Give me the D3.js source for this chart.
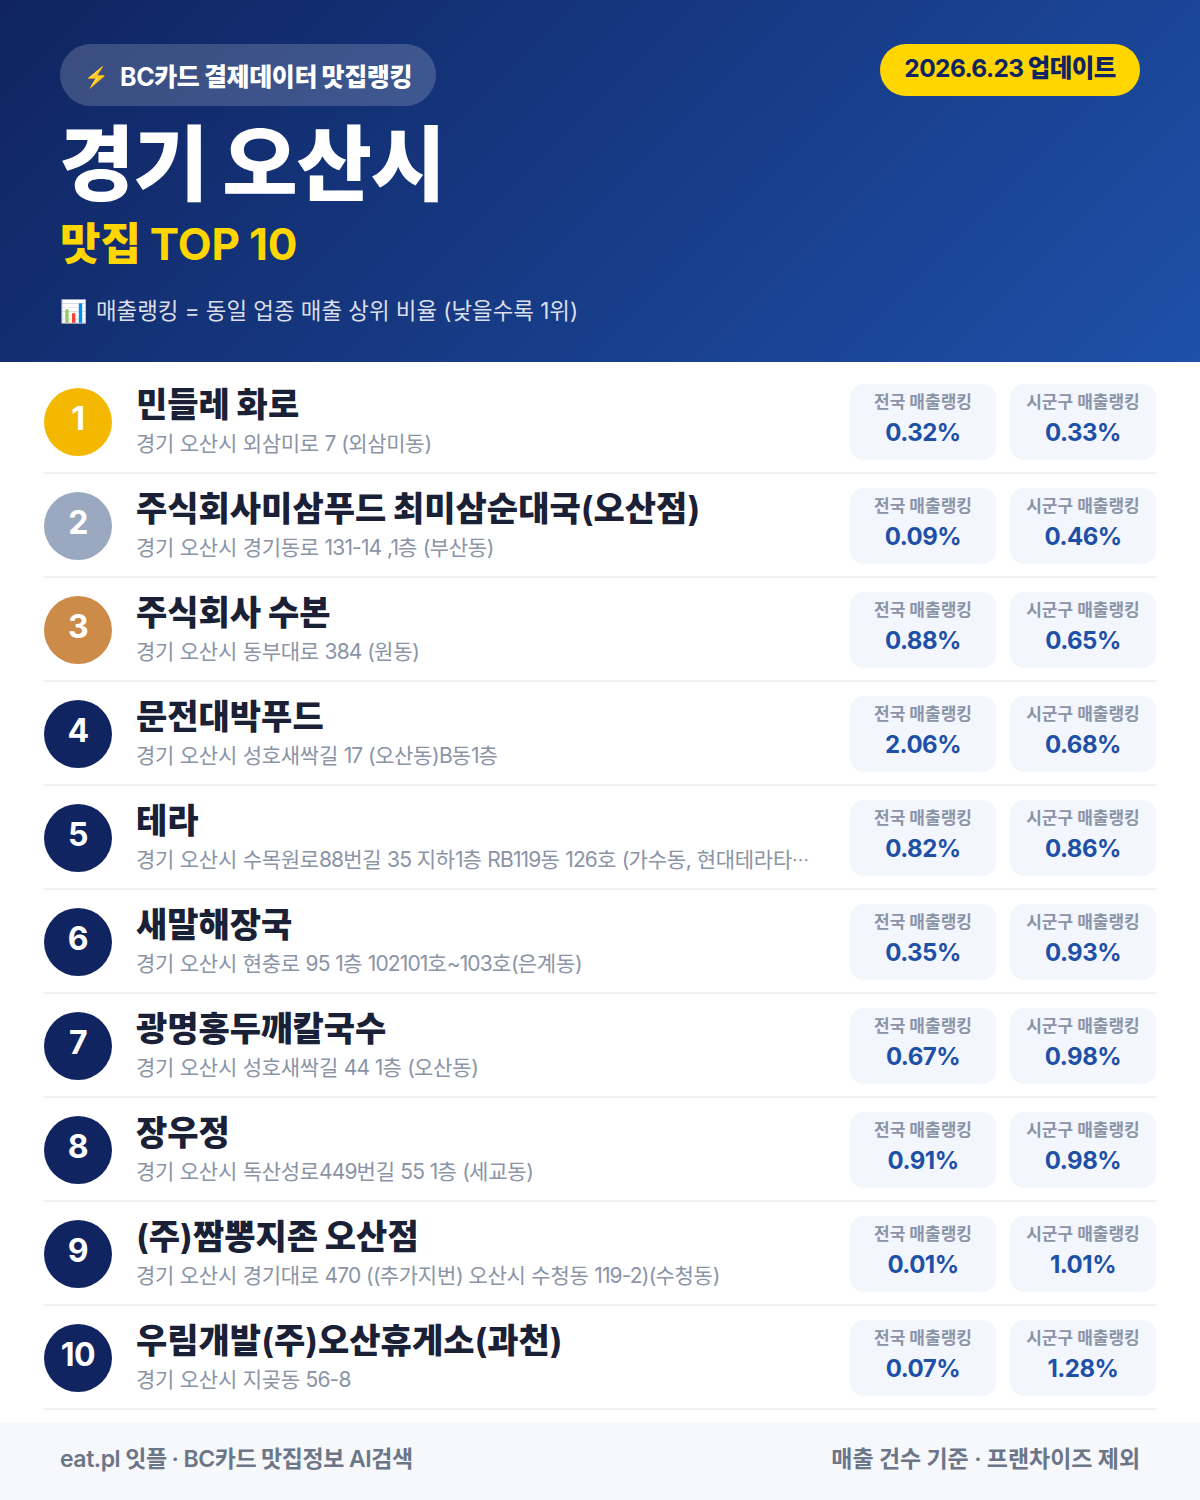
<!DOCTYPE html>
<html lang="ko"><head><meta charset="utf-8">
<script src="https://cdn.jsdelivr.net/npm/d3@7/dist/d3.min.js"></script>
<style>html,body{margin:0;padding:0;background:#fff}svg{display:block}text{font-family:Inter,"Noto Sans CJK KR",sans-serif}</style>
</head><body><div id="c"></div>
<script>
const ranks=[1,2,3,4,5,6,7,8,9,10];
const names=["민들레 화로","주식회사미삼푸드 최미삼순대국(오산점)","주식회사 수본","문전대박푸드","테라","새말해장국","광명홍두깨칼국수","장우정","(주)짬뽕지존 오산점","우림개발(주)오산휴게소(과천)"];
const addresses=["경기 오산시 외삼미로 7 (외삼미동)","경기 오산시 경기동로 131-14 ,1층 (부산동)","경기 오산시 동부대로 384 (원동)","경기 오산시 성호새싹길 17 (오산동)B동1층","경기 오산시 수목원로88번길 35 지하1층 RB119동 126호 (가수동, 현대테라타…","경기 오산시 현충로 95 1층 102101호~103호(은계동)","경기 오산시 성호새싹길 44 1층 (오산동)","경기 오산시 독산성로449번길 55 1층 (세교동)","경기 오산시 경기대로 470 ((추가지번) 오산시 수청동 119-2)(수청동)","경기 오산시 지곶동 56-8"];
const nationalRank=[0.32,0.09,0.88,2.06,0.82,0.35,0.67,0.91,0.01,0.07];
const districtRank=[0.33,0.46,0.65,0.68,0.86,0.93,0.98,0.98,1.01,1.28];
const medalColors=["#f5b800","#9aa8c0","#cd8b4a"];
const defaultColor="#0f2460";

const W=1200,H=1500;
const svg=d3.select("#c").append("svg").attr("width",W).attr("height",H).attr("viewBox",`0 0 ${W} ${H}`);
const defs=svg.append("defs");
const g=defs.append("linearGradient").attr("id","hd").attr("gradientUnits","userSpaceOnUse")
 .attr("x1",210).attr("y1",-209).attr("x2",990).attr("y2",571);
g.append("stop").attr("offset","0").attr("stop-color","#0f2460");
g.append("stop").attr("offset","1").attr("stop-color","#1e50a8");
svg.append("rect").attr("width",W).attr("height",362).attr("fill","url(#hd)");

// Hangul (with its spaces) and Latin/digit runs get their own weight and spacing.
function runs(sel,str,hw,lw,hs,ls){
  str.split(/([\uAC00-\uD7A3\s]+)/).filter(s=>s.length).forEach(s=>{
    const isH=/^[\uAC00-\uD7A3\s]+$/.test(s);
    const tsp=sel.append("tspan").text(s).attr("font-weight",isH?hw:lw).attr("letter-spacing",isH?hs:ls);
    if(s.includes("…")){tsp.attr("font-family","Noto Sans CJK KR").attr("font-size",17);}
  });
}
function t(x,y,str,size,hw,lw,hs,ls,fill,anchor){
  const e=svg.append("text").attr("x",x).attr("y",y).attr("font-size",size).attr("fill",fill).attr("text-anchor",anchor||"start");
  runs(e,str,hw,lw,hs,ls);return e;
}
svg.append("rect").attr("x",60).attr("y",44).attr("width",376).attr("height",62).attr("rx",31).attr("fill","#fff").attr("fill-opacity",.18);
t(84,84,"⚡",20,400,400,0,0,"#ffd600");
t(120,86,"BC카드 결제데이터 맛집랭킹",25,900,700,-.4,-.4,"#fff");
svg.append("rect").attr("x",880).attr("y",44).attr("width",260).attr("height",52).attr("rx",26).attr("fill","#ffd600");
t(1010,77,"2026.6.23 업데이트",24.5,900,700,-.6,-.6,"#0f2460","middle");
t(59,194,"경기 오산시",82,900,900,-1.3,-1.3,"#fff");
t(60,260,"맛집 TOP 10",44,900,700,0,0,"#ffd600");
t(60,319,"📊",22,400,400,0,0,"#fff");
t(96,319,"매출랭킹 = 동일 업종 매출 상위 비율 (낮을수록 1위)",22.4,400,400,0,0,"#fff").attr("fill-opacity",.85);

const y=d3.scaleBand().domain(ranks).range([370,1410]);
const row=svg.selectAll("g.row").data(ranks).join("g").attr("class","row").attr("transform",d=>`translate(0,${y(d)})`);
row.append("rect").attr("x",44).attr("y",102).attr("width",1112).attr("height",2).attr("fill","#eef0f4");
row.append("circle").attr("cx",78).attr("cy",52).attr("r",34).attr("fill",(d,i)=>medalColors[i]||defaultColor);
row.append("text").attr("x",78).attr("y",60).attr("text-anchor","middle").attr("font-size",32).attr("font-weight",700).attr("letter-spacing",-.5).attr("fill","#fff").text(d=>d);
row.append("text").attr("x",136).attr("y",47).attr("font-size",34).attr("fill","#1a2035").each(function(d,i){runs(d3.select(this),names[i],900,700,0,0);});
row.append("text").attr("x",136).attr("y",81).attr("font-size",21).attr("fill","#8a94a6").each(function(d,i){runs(d3.select(this),addresses[i],400,400,-.25,-.85);});
const cols=[{x:850,label:"전국 매출랭킹",vals:nationalRank},{x:1010,label:"시군구 매출랭킹",vals:districtRank}];
cols.forEach(c=>{
 row.append("rect").attr("x",c.x).attr("y",14).attr("width",146).attr("height",76).attr("rx",14).attr("fill","#f3f6fc");
 row.append("text").attr("x",c.x+73).attr("y",38).attr("text-anchor","middle").attr("font-size",17).attr("font-weight",700).attr("fill","#8a94a6").text(c.label);
 row.append("text").attr("x",c.x+73).attr("y",71).attr("text-anchor","middle").attr("font-size",24).attr("font-weight",700).attr("letter-spacing",-.5).attr("fill","#1e50a8").text((d,i)=>c.vals[i].toFixed(2)+"%");
});
svg.append("rect").attr("y",1422).attr("width",W).attr("height",78).attr("fill","#f7f8fb");
t(60,1467,"eat.pl 잇플 · BC카드 맛집정보 AI검색",23,700,600,-.45,-.45,"#6b7688");
t(1140,1467,"매출 건수 기준 · 프랜차이즈 제외",23,700,600,-.05,-.05,"#6b7688","end");
</script></body></html>
